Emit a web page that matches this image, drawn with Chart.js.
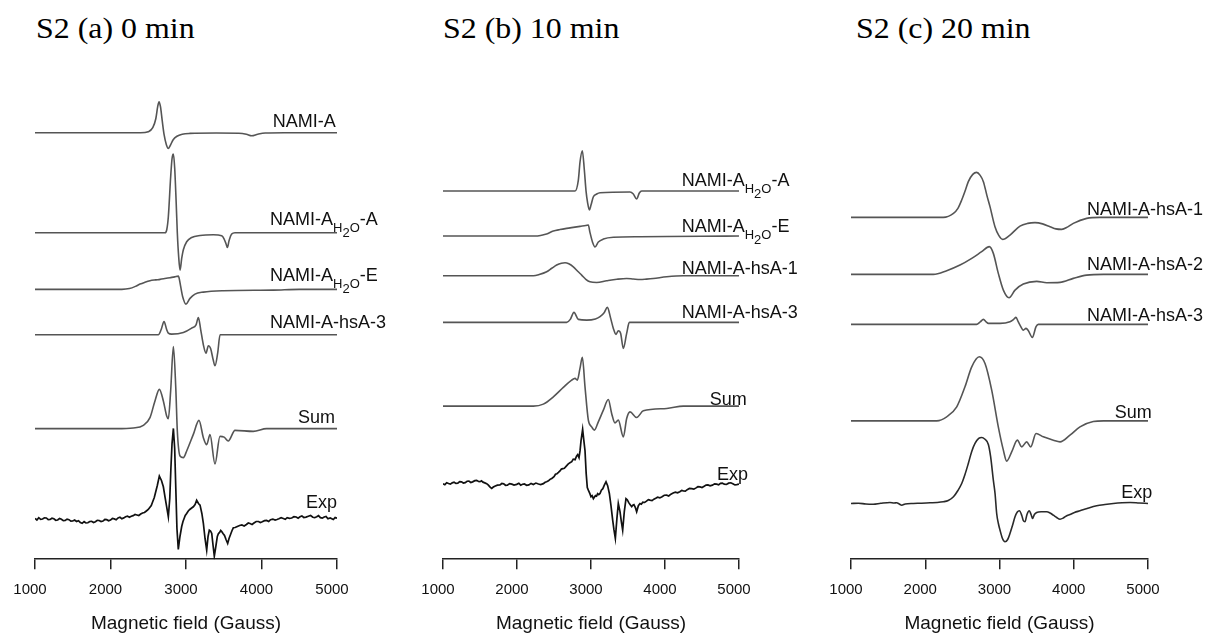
<!DOCTYPE html>
<html><head><meta charset="utf-8">
<script src="https://cdn.jsdelivr.net/npm/chart.js@4.4.0/dist/chart.umd.min.js"></script>
<style>
html,body{margin:0;padding:0;background:#fff;}
#wrap{position:relative;width:1207px;height:638px;overflow:hidden;background:#fff;}
.ttl{position:absolute;top:14px;font-family:"Liberation Serif","Times New Roman",serif;font-size:29px;line-height:29px;color:#000;transform-origin:0 0;transform:scaleX(1.1);white-space:nowrap;}
canvas{position:absolute;top:60px;}
</style></head><body>
<div id="wrap">
<div class="ttl" id="t0" style="left:36px"></div>
<div class="ttl" id="t1" style="left:443px"></div>
<div class="ttl" id="t2" style="left:856px"></div>
<canvas id="c0" width="400" height="578" style="left:0px"></canvas>
<canvas id="c1" width="400" height="578" style="left:400px"></canvas>
<canvas id="c2" width="407" height="578" style="left:800px"></canvas>
</div>
<script>
// ---------- text ----------
const panelTitles = ['S2 (a) 0 min', 'S2 (b) 10 min', 'S2 (c) 20 min'];
const fieldTicks = [1000, 2000, 3000, 4000, 5000];
const axisTitle = 'Magnetic field (Gauss)';

// ---------- panel (a) 0 min ----------
const a_names = ['NAMI-A', 'NAMI-AH2O-A', 'NAMI-AH2O-E', 'NAMI-A-hsA-3', 'Sum', 'Exp'];
const a_offsets = [426.3, 326.3, 269.7, 224.3, 130.5, 40.7];

const a_namiA_field = [1000, 2400, 2500, 2560, 2600, 2625, 2643, 2662, 2685, 2710, 2740, 2766, 2790, 2830, 2880, 2950, 3050, 3400, 3700, 3800, 3870, 3950, 4050, 4300, 5000];
const a_namiA_int   = [0, 0, 1, 5, 14, 26, 31, 26, 12, -2, -12, -15.7, -13, -7, -3.5, -1.5, -0.7, -0.3, -0.5, -1.5, -3, -1.5, -0.3, 0, 0];

const a_h2oA_field = [1000, 2722, 2745, 2766, 2797, 2815, 2833, 2850, 2870, 2885, 2903, 2921, 2943, 2965, 3009, 3075, 3186, 3362, 3473, 3504, 3530, 3548, 3570, 3605, 3649, 5000];
const a_h2oA_int   = [0, 0, 3, 16, 56, 74, 78.7, 65, 30, 0, -24, -37.3, -25.7, -17, -9, -4.7, -2.7, -2, -3, -6, -11, -14.7, -8, -1.3, 0, 0];

const a_h2oE_field = [1000, 2150, 2250, 2330, 2391, 2450, 2523, 2600, 2656, 2720, 2788, 2850, 2899, 2915, 2930, 2956, 3000, 3053, 3119, 3230, 3495, 4157, 4500, 5000];
const a_h2oE_int   = [0, 0, 0.8, 3, 5.3, 7, 8.7, 9.5, 10, 10.8, 11.7, 12.5, 13.3, 9, 2.7, -7.3, -14.7, -9, -4.7, -2.7, -1.3, -0.7, 0, 0];

const a_hsA3_field = [1000, 2634, 2670, 2709, 2745, 2766, 2810, 2965, 3075, 3133, 3164, 3195, 3230, 3265, 3296, 3327, 3360, 3384, 3420, 3451, 5000];
const a_hsA3_int   = [0, 0, 5, 13.3, 5, 1.7, 0.7, 2.3, 6.7, 10, 17.3, 5, -10, -18.3, -11, -14, -25, -31, -18, 0, 0];

const a_sum_field = [1000, 2082, 2302, 2435, 2523, 2589, 2647, 2700, 2744, 2766, 2797, 2833, 2865, 2885, 2921, 2965, 3009, 3097, 3172, 3230, 3274, 3318, 3384, 3450, 3505, 3560, 3649, 3891, 4068, 5000];
const a_sum_int   = [0, 0, 0.7, 3.3, 11, 27.7, 39.3, 27.7, 12.7, 10, 38, 82, 40, -2.3, -27.3, -29, -22.3, -5.7, 8.3, -9, -16, -6, -35.3, -7.7, -8.5, -12.3, -1.7, -2.7, 0, 0];

const a_exp_field = [1000, 1025, 1050, 1075, 1100, 1125, 1150, 1175, 1200, 1225, 1250, 1275, 1300, 1325, 1350, 1375, 1400, 1425, 1450, 1475, 1500, 1525, 1550, 1575, 1600, 1625, 1650, 1675, 1700, 1725, 1750, 1775, 1800, 1825, 1850, 1875, 1900, 1925, 1950, 1975, 2000, 2025, 2050, 2075, 2100, 2125, 2150, 2175, 2200, 2225, 2250, 2275, 2300, 2325, 2350, 2375, 2400, 2425, 2450, 2475, 2500, 2520, 2540, 2560, 2580, 2600, 2620, 2647, 2675, 2700, 2725, 2744, 2766, 2785, 2800, 2815, 2833, 2850, 2865, 2880, 2898, 2920, 2943, 2960, 2975, 2990, 3009, 3030, 3050, 3075, 3097, 3120, 3141, 3165, 3186, 3210, 3230, 3252, 3274, 3292, 3309, 3325, 3341, 3360, 3375, 3395, 3415, 3430, 3445, 3460, 3473, 3490, 3510, 3530, 3552, 3570, 3590, 3610, 3627, 3650, 3680, 3710, 3740, 3770, 3800, 3825, 3848, 3875, 3900, 3930, 3960, 3985, 4010, 4040, 4068, 4095, 4120, 4150, 4180, 4205, 4230, 4260, 4289, 4315, 4340, 4370, 4400, 4430, 4460, 4485, 4510, 4535, 4560, 4590, 4620, 4650, 4680, 4705, 4731, 4755, 4780, 4805, 4830, 4855, 4880, 4910, 4951, 4975, 5000];
const a_exp_int   = [0, -1.5, 0.8, -0.8, -0.5, 0.7, 0.5, -1.2, -1, 0.2, -0.3, -1.8, -1.5, 0, -0.8, -2.2, -2, -0.6, -1.2, -2.6, -2.5, -1.5, -3, -2.2, -4, -4.8, -3.2, -4.5, -4.3, -3, -2.8, -4, -3.2, -1.8, -2, -3.1, -2.6, -1, -1.2, -2.3, -1.6, 0, -0.4, -1.3, 0.5, 1.2, -0.2, 0.6, 1.7, 2.4, 1.2, 2.2, 2.8, 4, 3.5, 3, 4.5, 5.5, 6, 7.5, 9, 11, 13, 17, 21, 27, 33, 42.3, 38, 31.7, 20, 11.7, 1.7, 20, 50, 75, 90, 70, 30, -10, -31, -18, -8, -3, 0, 3, 5, 7.5, 9, 10.5, 11.7, 14, 18.3, 15, 13.3, 5, -5, -20, -31.7, -18, -11.7, -12.5, -15, -28, -37.7, -28, -18, -15, -14, -12, -13, -15, -17, -21, -25, -20, -16, -12, -9.3, -9, -8, -7, -6.5, -7.5, -6, -4.5, -5, -6, -4.5, -3, -3, -4, -3.3, -2.2, -2, -3, -1.2, -0.6, -1.6, -1, -0.3, 0.8, 0, -0.8, 0.8, 0.1, 0.5, 1.8, 1.5, 0.3, 1.7, 2.6, 1, 1.4, 2.3, 3, 1.2, 0.8, 1.7, 2.8, 0.8, 0.3, 1.5, 2.1, -0.3, 0.6, -1, 0.9, 0.3];

// ---------- panel (b) 10 min ----------
const b_names = ['NAMI-AH2O-A', 'NAMI-AH2O-E', 'NAMI-A-hsA-1', 'NAMI-A-hsA-3', 'Sum', 'Exp'];
const b_offsets = [368, 323, 283.3, 236.7, 153, 75.5];

const b_h2oA_field = [1000, 2784, 2829, 2852, 2883, 2910, 2933, 2955, 2978, 3000, 3032, 3077, 3122, 3527, 3572, 3617, 3653, 3685, 5000];
const b_h2oA_int   = [0, 0, 11, 29.3, 40.3, 21, 0, -12, -19, -14, -5.7, -3, -1.7, -1, -3, -8, -2, 0, 0];

const b_h2oE_field = [1000, 2250, 2330, 2400, 2491, 2580, 2671, 2760, 2852, 2930, 2964, 2985, 3023, 3054, 3099, 3167, 3302, 3662, 4500, 5000];
const b_h2oE_int   = [0, 0, 0.8, 2, 5, 6.5, 7.7, 8.7, 9.7, 10.5, 11, 4, -6.6, -11, -6, -3, -1.2, -0.7, -0.2, 0];

const b_hsA1_field = [1000, 2221, 2300, 2401, 2470, 2536, 2600, 2649, 2700, 2761, 2820, 2874, 2930, 2986, 3077, 3212, 3350, 3482, 3570, 3662, 3750, 3842, 4023, 4248, 5000];
const b_hsA1_int   = [0, 0, 1.2, 4, 7.5, 10.7, 12.5, 13, 12, 9, 4.5, 0.7, -3.5, -6, -6.7, -5, -3.5, -2.7, -3.2, -3.7, -3.3, -2.7, -1, 0, 0];

const b_hsA3_field = [1000, 2671, 2720, 2770, 2829, 2942, 3060, 3122, 3180, 3221, 3266, 3302, 3338, 3369, 3401, 3437, 3482, 3518, 5000];
const b_hsA3_int   = [0, 0, 3, 10, 3, 2.3, 3.5, 5.7, 10, 15, 4, -6, -12, -8.3, -11, -26, -11, 0, 0];

const b_sum_field = [1000, 2221, 2356, 2491, 2626, 2739, 2784, 2815, 2851, 2883, 2919, 2964, 3009, 3045, 3099, 3167, 3234, 3279, 3324, 3369, 3437, 3482, 3527, 3617, 3707, 4023, 4248, 5000];
const b_sum_int   = [0, 0, 2, 9.3, 18.7, 26, 27.7, 26, 37.7, 48.7, 19.3, -14, -20.7, -24, -15.7, -4, 6.7, -7.3, -16.7, -14, -30.7, -12.3, -5.7, -11.3, -4.7, -2.3, 0, 0];

const b_exp_field = [1000, 1025, 1050, 1075, 1100, 1125, 1150, 1175, 1200, 1225, 1250, 1275, 1300, 1325, 1350, 1375, 1400, 1430, 1455, 1480, 1500, 1520, 1540, 1565, 1590, 1610, 1625, 1640, 1658, 1680, 1700, 1735, 1770, 1795, 1820, 1845, 1870, 1900, 1930, 1960, 1996, 2025, 2050, 2075, 2100, 2130, 2160, 2190, 2221, 2255, 2290, 2320, 2356, 2380, 2400, 2425, 2446, 2470, 2500, 2520, 2540, 2560, 2581, 2600, 2620, 2640, 2660, 2690, 2716, 2740, 2760, 2785, 2806, 2820, 2838, 2852, 2865, 2887, 2905, 2919, 2935, 2950, 2964, 2985, 3000, 3015, 3032, 3045, 3060, 3075, 3090, 3105, 3122, 3140, 3160, 3180, 3203, 3225, 3248, 3270, 3293, 3310, 3329, 3350, 3369, 3392, 3410, 3428, 3450, 3473, 3490, 3510, 3530, 3550, 3565, 3580, 3600, 3617, 3640, 3662, 3680, 3700, 3725, 3750, 3775, 3797, 3825, 3850, 3875, 3900, 3930, 3960, 3990, 4023, 4050, 4080, 4110, 4140, 4170, 4200, 4225, 4248, 4275, 4300, 4330, 4360, 4390, 4420, 4445, 4473, 4500, 4530, 4555, 4580, 4610, 4640, 4670, 4698, 4725, 4750, 4775, 4800, 4830, 4860, 4890, 4923, 4945, 4970, 5000];
const b_exp_int   = [0, -1, 1, 0.2, -0.5, 0.8, 1.5, 0.3, 0.5, 2, 1.8, 0.6, 1, 2.4, 2.5, 1.2, 1.8, 3, 3.3, 2.2, 2, 2.8, 1.5, 0.8, 0, -1.2, -2.5, -3.8, -4.7, -3.4, -2.5, -1.5, -1.3, 0.2, -0.2, -1.6, -1.5, 0.1, -0.5, -1.4, -0.7, 0.4, -1.5, -0.6, -0.3, -1.6, -1.2, 0.3, -0.8, 0.6, -0.3, -0.9, 0, 1.4, 2, 2.8, 4.3, 5.2, 7, 9.4, 10, 11.2, 12.7, 14.6, 15, 15.4, 17, 19.5, 21, 22, 24.5, 24, 27.7, 29, 26, 33, 42.7, 54.3, 42, 33, 10, -4, -6.5, -10, -13, -12, -15, -13.5, -12, -12.5, -10, -11, -9.8, -6.5, -5, -1.5, 1.8, -2, -9.8, -22, -36.5, -46, -54.8, -35, -19.8, -28, -38, -46.5, -28, -15, -16, -19, -21, -23, -21.5, -21, -24, -28, -22, -19.8, -20.5, -18.5, -18.8, -17.5, -16, -16.5, -17, -15.5, -14.6, -13.5, -14.2, -13, -11.6, -11.5, -12.3, -10.5, -9.4, -8.5, -9.2, -8, -6.8, -7.2, -7.4, -6, -4.8, -5, -5.5, -4.2, -3, -3.2, -3.8, -2.5, -1.4, -1.2, -2.2, -1.5, -0.2, -0.5, -1.2, 0.3, 0.6, -0.5, -0.8, 0.5, 0.9, -0.3, -1.2, -1, -0.5];

// ---------- panel (c) 20 min ----------
const c_names = ['NAMI-A-hsA-1', 'NAMI-A-hsA-2', 'NAMI-A-hsA-3', 'Sum', 'Exp'];
const c_offsets = [341.7, 284.7, 234.7, 138.3, 55.7];

const c_hsA1_field = [1000, 2243, 2380, 2440, 2491, 2540, 2580, 2640, 2692, 2740, 2783, 2830, 2872, 2939, 2990, 3043, 3141, 3276, 3380, 3478, 3580, 3680, 3760, 3838, 3920, 3994, 4174, 4353, 5000];
const c_hsA1_int   = [0, 0, 4, 9, 17.3, 27, 35.7, 43, 45, 42, 35.7, 22, 10.7, -9.3, -18, -22, -17.7, -8.7, -6, -5.3, -6.5, -9.3, -11.5, -12, -9.5, -6, -1, 0, 0];

const c_hsA2_field = [1000, 2108, 2289, 2468, 2626, 2760, 2863, 2917, 2984, 3052, 3128, 3209, 3321, 3501, 3636, 3815, 3994, 4174, 4400, 5000];
const c_hsA2_int   = [0, 0, 3.7, 9.3, 16, 22.7, 27.7, 21, 1, -15.7, -23.3, -15.7, -9.7, -7, -8.3, -8, -4, -0.7, 0, 0];

const c_hsA3_field = [1000, 2692, 2740, 2783, 2820, 2850, 3007, 3141, 3190, 3222, 3250, 3276, 3321, 3357, 3389, 3442, 3492, 3523, 5000];
const c_hsA3_int   = [0, 0, 2.5, 5, 2.5, 1, 1, 2.7, 5, 7, 3, -0.7, -5.7, -4, -6.3, -13, -2.3, 0, 0];

const c_sum_field = [1000, 2154, 2289, 2424, 2535, 2626, 2728, 2805, 2895, 2984, 3052, 3097, 3164, 3241, 3299, 3366, 3420, 3492, 3590, 3725, 3815, 3949, 4084, 4263, 4400, 5000];
const c_sum_int   = [0, 0, 4, 14, 34, 54, 64, 57.3, 30.7, -6, -29.3, -40.3, -31, -19.3, -26, -21, -26, -12.7, -16, -19.3, -21, -14.3, -6, -0.7, 0, 0];

const c_exp_field = [1000, 1100, 1200, 1300, 1400, 1525, 1580, 1615, 1650, 1683, 1730, 1839, 1950, 2064, 2160, 2243, 2310, 2380, 2440, 2491, 2535, 2580, 2626, 2670, 2720, 2760, 2800, 2850, 2880, 2917, 2940, 2962, 2985, 3007, 3040, 3074, 3110, 3141, 3175, 3209, 3240, 3267, 3300, 3320, 3343, 3370, 3401, 3425, 3446, 3470, 3501, 3560, 3636, 3680, 3725, 3770, 3815, 3860, 3900, 3949, 4010, 4084, 4180, 4309, 4420, 4533, 4650, 4758, 4880, 5000];
const c_exp_int   = [0, 0.3, -0.5, -0.7, 0.2, 1, 0.5, 0.7, -0.5, -1.7, -0.5, 0, 0.3, 0.7, 1, 1.7, 3, 6.7, 13, 20, 29, 40, 52, 60, 65, 66, 64.5, 59, 47, 23.3, 10, -10, -20, -26.7, -35, -38.3, -36, -30, -22, -13.3, -8.5, -7.3, -12, -17, -18.3, -11, -7.3, -11, -15, -11, -9, -8.3, -8.3, -9.5, -11.7, -14, -15.7, -14.5, -12.5, -11, -9, -7.3, -5, -2.3, -1, 0, 0.7, 1, 0.5, 0];

// ---------- drawing ----------
const SANS = '"Liberation Sans", Arial, sans-serif';
const SYN = '#555555', EXPC = '#111111';

function toSegments(name) {
  const i = name.indexOf('H2O');
  if (i < 0) return [[name, 0]];
  return [[name.slice(0, i), 0], ['H', 1], ['2', 2], ['O', 1], [name.slice(i + 3), 0]];
}

const labelPlugin = {
  id: 'traceLabels',
  afterDraw(chart) {
    const cfg = chart.options.plugins.traceLabels;
    if (!cfg || !cfg.items) return;
    const ctx = chart.ctx, xs = chart.scales.x, ys = chart.scales.y;
    ctx.save();
    ctx.fillStyle = '#111';
    ctx.textBaseline = 'alphabetic';
    ctx.textAlign = 'left';
    const drop = [0, 7, 12];
    cfg.items.forEach(it => {
      const segs = toSegments(it.text);
      const fonts = segs.map(s => (s[1] === 0 ? '18px ' : '13px ') + SANS);
      const widths = segs.map((s, k) => { ctx.font = fonts[k]; return ctx.measureText(s[0]).width; });
      const total = widths.reduce((p, q) => p + q, 0);
      let x = xs.getPixelForValue(it.field);
      if (it.align === 'right') x -= total;
      const yb = ys.getPixelForValue(it.offset + it.lift);
      segs.forEach((s, k) => { ctx.font = fonts[k]; ctx.fillText(s[0], x, yb + drop[s[1]]); x += widths[k]; });
    });
    ctx.restore();
  }
};

function makeChart(id, padL, padR, traces, labels) {
  const datasets = traces.map(t => ({
    data: t.field.map((f, i) => ({ x: f, y: t.offset + t.amp[i] })),
    borderColor: t.color,
    borderWidth: t.width,
    pointRadius: 0,
    fill: false,
    tension: 0,
    cubicInterpolationMode: t.jagged ? 'default' : 'monotone'
  }));
  new Chart(document.getElementById(id), {
    type: 'line',
    data: { datasets },
    plugins: [labelPlugin],
    options: {
      responsive: false, animation: false, events: [],
      layout: { padding: { left: padL, right: padR, top: 20, bottom: 0 } },
      plugins: { legend: { display: false }, tooltip: { enabled: false }, traceLabels: { items: labels } },
      scales: {
        x: {
          type: 'linear', min: fieldTicks[0], max: fieldTicks[fieldTicks.length - 1],
          afterBuildTicks: s => { s.ticks = fieldTicks.map(v => ({ value: v })); },
          border: { display: true, color: '#222', width: 1.5 },
          grid: { display: true, drawOnChartArea: false, drawTicks: true, tickLength: 10, color: '#222', lineWidth: 1.5 },
          ticks: { padding: 12, labelOffset: -5, color: '#111', maxRotation: 0, autoSkip: false,
                   font: { family: SANS, size: 15 }, callback: v => String(v) },
          title: { display: true, text: axisTitle, color: '#111', font: { family: SANS, size: 19 }, padding: { top: 1, bottom: 3 } }
        },
        y: { type: 'linear', display: false, min: 0, max: 479 }
      }
    }
  });
}

panelTitles.forEach((t, i) => { document.getElementById('t' + i).textContent = t; });

// panel a
makeChart('c0', 35, 63, [
  { field: a_namiA_field, amp: a_namiA_int, offset: a_offsets[0], color: SYN, width: 1.6 },
  { field: a_h2oA_field, amp: a_h2oA_int, offset: a_offsets[1], color: SYN, width: 1.6 },
  { field: a_h2oE_field, amp: a_h2oE_int, offset: a_offsets[2], color: SYN, width: 1.6 },
  { field: a_hsA3_field, amp: a_hsA3_int, offset: a_offsets[3], color: SYN, width: 1.6 },
  { field: a_sum_field, amp: a_sum_int, offset: a_offsets[4], color: SYN, width: 1.6 },
  { field: a_exp_field, amp: a_exp_int, offset: a_offsets[5], color: EXPC, width: 1.7, jagged: true }
], [
  { text: a_names[0], offset: a_offsets[0], field: 4150, align: 'left', lift: 6 },
  { text: a_names[1], offset: a_offsets[1], field: 4113, align: 'left', lift: 7.7 },
  { text: a_names[2], offset: a_offsets[2], field: 4113, align: 'left', lift: 8 },
  { text: a_names[3], offset: a_offsets[3], field: 4113, align: 'left', lift: 7 },
  { text: a_names[4], offset: a_offsets[4], field: 4974, align: 'right', lift: 6 },
  { text: a_names[5], offset: a_offsets[5], field: 5000, align: 'right', lift: 10.6 }
]);

// panel b
makeChart('c1', 43, 61, [
  { field: b_h2oA_field, amp: b_h2oA_int, offset: b_offsets[0], color: SYN, width: 1.6 },
  { field: b_h2oE_field, amp: b_h2oE_int, offset: b_offsets[1], color: SYN, width: 1.6 },
  { field: b_hsA1_field, amp: b_hsA1_int, offset: b_offsets[2], color: SYN, width: 1.6 },
  { field: b_hsA3_field, amp: b_hsA3_int, offset: b_offsets[3], color: SYN, width: 1.6 },
  { field: b_sum_field, amp: b_sum_int, offset: b_offsets[4], color: SYN, width: 1.6 },
  { field: b_exp_field, amp: b_exp_int, offset: b_offsets[5], color: EXPC, width: 1.7, jagged: true }
], [
  { text: b_names[0], offset: b_offsets[0], field: 4226, align: 'left', lift: 5 },
  { text: b_names[1], offset: b_offsets[1], field: 4226, align: 'left', lift: 4.3 },
  { text: b_names[2], offset: b_offsets[2], field: 4226, align: 'left', lift: 1.7 },
  { text: b_names[3], offset: b_offsets[3], field: 4226, align: 'left', lift: 4 },
  { text: b_names[4], offset: b_offsets[4], field: 5104, align: 'right', lift: 1 },
  { text: b_names[5], offset: b_offsets[5], field: 5122, align: 'right', lift: 3.5 }
]);

// panel c
makeChart('c2', 51, 59, [
  { field: c_hsA1_field, amp: c_hsA1_int, offset: c_offsets[0], color: SYN, width: 1.6 },
  { field: c_hsA2_field, amp: c_hsA2_int, offset: c_offsets[1], color: SYN, width: 1.6 },
  { field: c_hsA3_field, amp: c_hsA3_int, offset: c_offsets[2], color: SYN, width: 1.6 },
  { field: c_sum_field, amp: c_sum_int, offset: c_offsets[3], color: SYN, width: 1.6 },
  { field: c_exp_field, amp: c_exp_int, offset: c_offsets[4], color: '#2a2a2a', width: 1.6 }
], [
  { text: c_names[0], offset: c_offsets[0], field: 4178, align: 'left', lift: 2.3 },
  { text: c_names[1], offset: c_offsets[1], field: 4178, align: 'left', lift: 4.3 },
  { text: c_names[2], offset: c_offsets[2], field: 4178, align: 'left', lift: 3.6 },
  { text: c_names[3], offset: c_offsets[3], field: 5050, align: 'right', lift: 2.4 },
  { text: c_names[4], offset: c_offsets[4], field: 5058, align: 'right', lift: 5 }
]);
</script>
</body></html>
